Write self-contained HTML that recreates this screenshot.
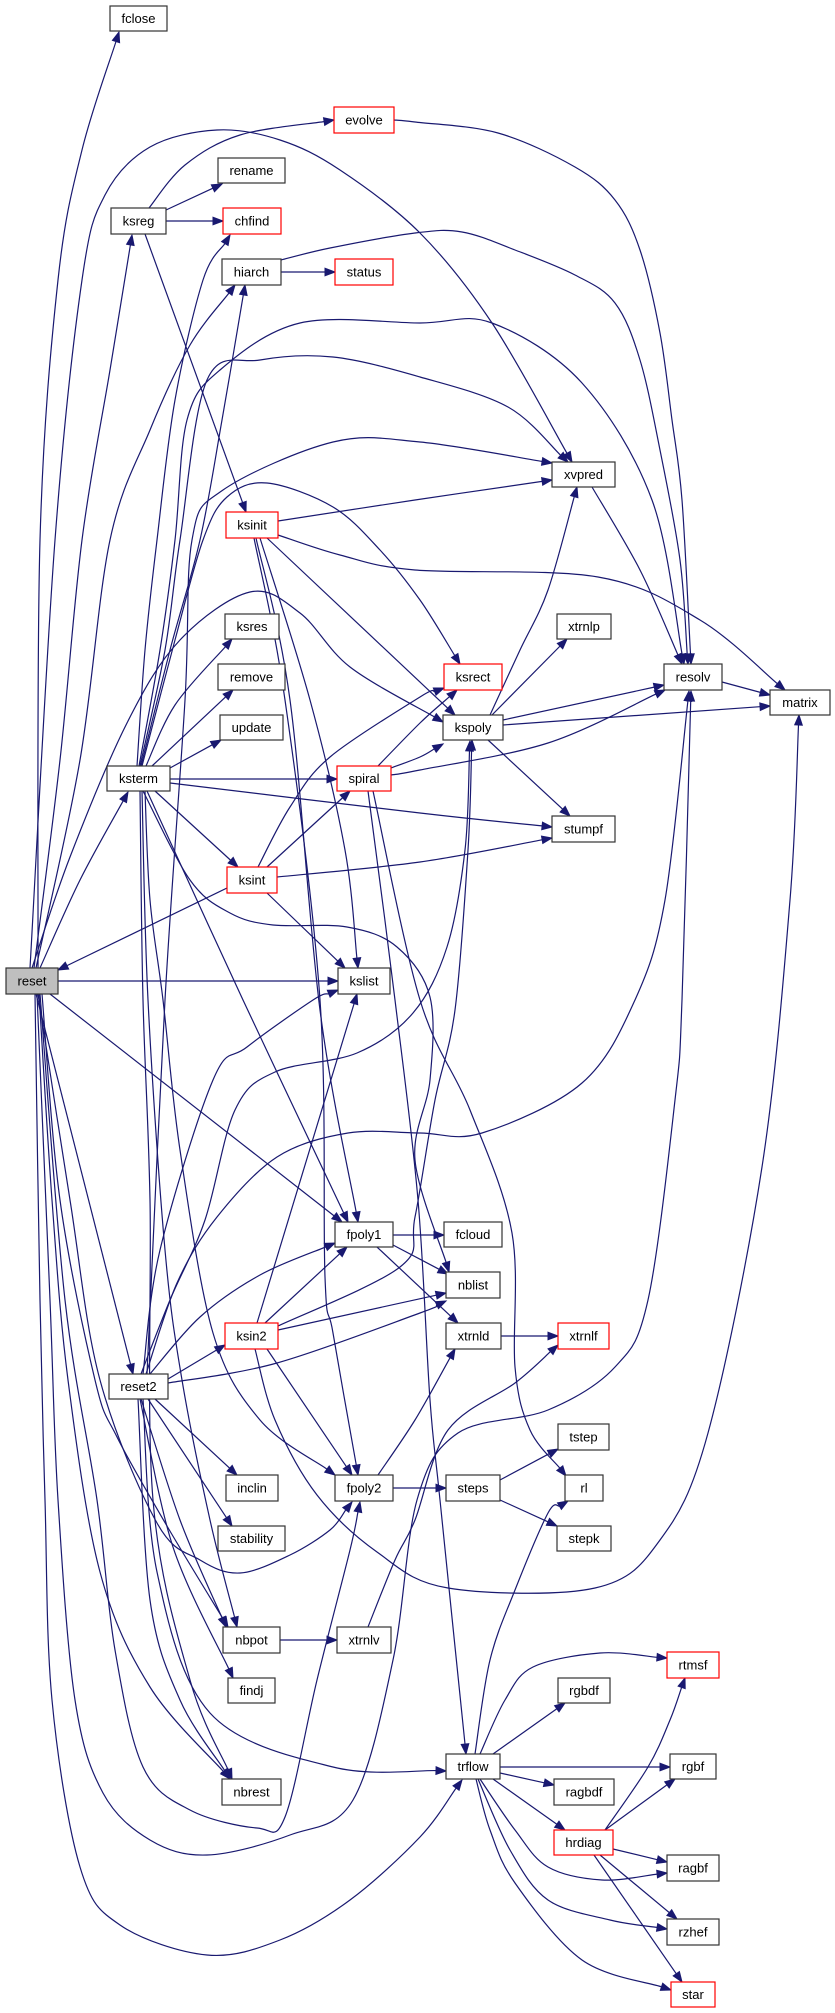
<!DOCTYPE html>
<html><head><meta charset="utf-8"><style>
html,body{margin:0;padding:0;background:#fff;}
svg{display:block;}
text{font-family:"Liberation Sans",Arial,sans-serif;font-size:13px;fill:#000;text-anchor:middle;}
.n{fill:#fff;stroke:#333;stroke-width:1.2;}
.r{fill:#fff;stroke:#ff0000;stroke-width:1.2;}
.g{fill:#bfbfbf;stroke:#333;stroke-width:1.2;}
</style></head><body>
<svg id="s" width="835" height="2013" viewBox="0 0 835 2013" xmlns="http://www.w3.org/2000/svg">
<g id="edges" fill="none" stroke="#191970" stroke-width="1.2"></g>
<g id="heads" fill="#191970" stroke="#191970" stroke-width="1"></g>
<g id="nodes">
<rect class="n" x="110" y="6" width="57" height="25"/><text x="138.5" y="23">fclose</text>
<rect class="r" x="334" y="107" width="60" height="26"/><text x="364" y="124.5">evolve</text>
<rect class="n" x="218" y="158" width="67" height="25"/><text x="251.5" y="175">rename</text>
<rect class="n" x="111" y="208" width="55" height="26"/><text x="138.5" y="225.5">ksreg</text>
<rect class="r" x="223" y="208" width="58" height="26"/><text x="252" y="225.5">chfind</text>
<rect class="n" x="222" y="259" width="59" height="26"/><text x="251.5" y="276.5">hiarch</text>
<rect class="r" x="335" y="259" width="58" height="26"/><text x="364" y="276.5">status</text>
<rect class="n" x="552" y="462" width="63" height="25"/><text x="583.5" y="479">xvpred</text>
<rect class="r" x="226" y="512" width="52" height="26"/><text x="252" y="529.5">ksinit</text>
<rect class="n" x="225" y="614" width="54" height="25"/><text x="252" y="631">ksres</text>
<rect class="n" x="557" y="614" width="54" height="25"/><text x="584" y="631">xtrnlp</text>
<rect class="n" x="218" y="664" width="67" height="26"/><text x="251.5" y="681.5">remove</text>
<rect class="r" x="444" y="664" width="58" height="26"/><text x="473" y="681.5">ksrect</text>
<rect class="n" x="664" y="664" width="58" height="26"/><text x="693" y="681.5">resolv</text>
<rect class="n" x="770" y="690" width="60" height="25"/><text x="800" y="707">matrix</text>
<rect class="n" x="220" y="715" width="63" height="25"/><text x="251.5" y="732">update</text>
<rect class="n" x="443" y="715" width="60" height="25"/><text x="473" y="732">kspoly</text>
<rect class="n" x="107" y="766" width="63" height="25"/><text x="138.5" y="783">ksterm</text>
<rect class="r" x="337" y="766" width="54" height="25"/><text x="364" y="783">spiral</text>
<rect class="n" x="552" y="816" width="63" height="26"/><text x="583.5" y="833.5">stumpf</text>
<rect class="r" x="227" y="867" width="50" height="26"/><text x="252" y="884.5">ksint</text>
<rect class="g" x="6" y="968" width="52" height="26"/><text x="32" y="985.5">reset</text>
<rect class="n" x="338" y="968" width="52" height="26"/><text x="364" y="985.5">kslist</text>
<rect class="n" x="335" y="1222" width="58" height="25"/><text x="364" y="1239">fpoly1</text>
<rect class="n" x="444" y="1222" width="58" height="25"/><text x="473" y="1239">fcloud</text>
<rect class="n" x="446" y="1272" width="54" height="26"/><text x="473" y="1289.5">nblist</text>
<rect class="r" x="225" y="1323" width="53" height="26"/><text x="251.5" y="1340.5">ksin2</text>
<rect class="n" x="446" y="1323" width="55" height="26"/><text x="473.5" y="1340.5">xtrnld</text>
<rect class="r" x="558" y="1323" width="51" height="26"/><text x="583.5" y="1340.5">xtrnlf</text>
<rect class="n" x="109" y="1374" width="59" height="25"/><text x="138.5" y="1391">reset2</text>
<rect class="n" x="558" y="1424" width="51" height="26"/><text x="583.5" y="1441.5">tstep</text>
<rect class="n" x="226" y="1475" width="52" height="26"/><text x="252" y="1492.5">inclin</text>
<rect class="n" x="335" y="1475" width="58" height="26"/><text x="364" y="1492.5">fpoly2</text>
<rect class="n" x="446" y="1475" width="54" height="26"/><text x="473" y="1492.5">steps</text>
<rect class="n" x="565" y="1475" width="38" height="26"/><text x="584" y="1492.5">rl</text>
<rect class="n" x="218" y="1526" width="67" height="25"/><text x="251.5" y="1543">stability</text>
<rect class="n" x="557" y="1526" width="54" height="25"/><text x="584" y="1543">stepk</text>
<rect class="n" x="223" y="1627" width="57" height="26"/><text x="251.5" y="1644.5">nbpot</text>
<rect class="n" x="337" y="1627" width="54" height="26"/><text x="364" y="1644.5">xtrnlv</text>
<rect class="r" x="667" y="1652" width="52" height="26"/><text x="693" y="1669.5">rtmsf</text>
<rect class="n" x="228" y="1678" width="47" height="25"/><text x="251.5" y="1695">findj</text>
<rect class="n" x="558" y="1678" width="52" height="25"/><text x="584" y="1695">rgbdf</text>
<rect class="n" x="446" y="1754" width="54" height="25"/><text x="473" y="1771">trflow</text>
<rect class="n" x="670" y="1754" width="46" height="25"/><text x="693" y="1771">rgbf</text>
<rect class="n" x="222" y="1779" width="59" height="26"/><text x="251.5" y="1796.5">nbrest</text>
<rect class="n" x="554" y="1779" width="60" height="26"/><text x="584" y="1796.5">ragbdf</text>
<rect class="r" x="554" y="1830" width="59" height="25"/><text x="583.5" y="1847">hrdiag</text>
<rect class="n" x="667" y="1855" width="52" height="26"/><text x="693" y="1872.5">ragbf</text>
<rect class="n" x="667" y="1919" width="52" height="26"/><text x="693" y="1936.5">rzhef</text>
<rect class="r" x="671" y="1982" width="44" height="25"/><text x="693" y="1999">star</text>
</g>
</svg>
<script>
var E=[
[[38,968],[40,540],[58,280],[82,150],[119,32]],
[[30,968],[55,540],[82,280],[105,195],[150,147],[217,130],[280,140],[340,170],[420,233],[492,323],[572,462]],
[[34,968],[60,760],[82,540],[110,370],[132,235]],
[[36,968],[80,760],[110,540],[150,430],[190,345],[235,285]],
[[40,968],[80,880],[128,792]],
[[58,981],[338,981]],
[[50,994],[342,1222]],
[[36,994],[133,1374]],
[[32,968],[70,857],[127,723],[180,640],[250,592],[300,613],[350,667],[443,722]],
[[35,994],[40,1300],[45,1500],[52,1700],[80,1867],[120,1925],[207,1955],[280,1940],[350,1900],[420,1837],[462,1780]],
[[37,994],[50,1300],[58,1500],[75,1700],[103,1793],[150,1840],[207,1855],[290,1835],[353,1800],[393,1660],[417,1500],[458,1433],[548,1410],[615,1367],[648,1300],[675,1100],[682,1000],[691,691]],
[[40,994],[65,1300],[97,1500],[115,1650],[143,1767],[190,1810],[257,1828],[285,1817],[317,1680],[350,1550],[360,1502]],
[[38,994],[70,1200],[100,1380],[157,1523],[200,1560],[240,1573],[290,1555],[330,1530],[352,1502]],
[[42,994],[60,1200],[95,1380],[117,1437],[167,1526],[228,1627]],
[[39,994],[52,1200],[68,1380],[100,1572],[150,1687],[230,1779]],
[[149,208],[185,165],[240,135],[334,120]],
[[166,210],[222,184]],
[[166,221],[223,221]],
[[145,234],[246,512]],
[[281,272],[335,272]],
[[281,260],[330,248],[415,233],[462,232],[515,250],[575,275],[615,303],[640,360],[660,450],[680,560],[688,664]],
[[394,120],[415,122],[498,133],[575,167],[615,200],[640,250],[660,333],[672,420],[682,500],[691,664]],
[[137,766],[145,650],[157,540],[175,400],[203,280],[230,235]],
[[141,766],[170,650],[200,540],[222,420],[245,285]],
[[139,766],[160,650],[175,540],[187,420],[220,370],[300,323],[420,323],[492,323],[582,383],[652,500],[684,664]],
[[140,766],[165,650],[180,540],[207,380],[260,360],[333,357],[420,377],[508,407],[568,462]],
[[142,766],[175,640],[203,540],[227,497],[267,483],[333,507],[380,550],[420,600],[460,664]],
[[146,766],[175,705],[232,639]],
[[152,766],[233,690]],
[[170,768],[221,740]],
[[170,779],[337,779]],
[[170,783],[420,813],[552,827]],
[[155,791],[238,867]],
[[147,791],[243,1000],[348,1222]],
[[143,791],[190,880],[230,913],[273,925],[347,927],[397,947],[430,997],[430,1080],[415,1160],[449,1272]],
[[145,791],[150,900],[163,1000],[180,1150],[213,1333],[260,1420],[335,1475]],
[[142,791],[148,1000],[165,1250],[182,1380],[210,1520],[237,1627]],
[[140,791],[143,1000],[150,1200],[153,1500],[190,1680],[232,1779]],
[[227,888],[58,970]],
[[267,867],[350,791]],
[[258,867],[290,807],[330,757],[420,697],[444,688]],
[[277,877],[420,862],[552,838]],
[[267,893],[345,968]],
[[278,521],[415,500],[552,480]],
[[278,535],[340,555],[415,570],[598,577],[700,620],[785,690]],
[[267,538],[455,715]],
[[260,538],[310,700],[345,850],[358,968]],
[[256,538],[290,700],[320,1010],[358,1222]],
[[254,538],[285,700],[320,1000],[325,1277],[333,1333],[358,1475]],
[[378,766],[420,723],[457,690]],
[[391,768],[420,757],[443,744]],
[[391,775],[420,770],[548,743],[665,690]],
[[368,791],[395,1000],[418,1200],[430,1400],[440,1500],[466,1754]],
[[373,791],[420,1000],[470,1110],[512,1233],[515,1367],[530,1430],[566,1476]],
[[490,715],[520,650],[548,590],[577,487]],
[[492,715],[567,639]],
[[503,720],[664,685]],
[[503,725],[770,706]],
[[488,740],[570,816]],
[[592,487],[640,570],[682,664]],
[[722,682],[770,695]],
[[168,1379],[225,1345]],
[[168,1383],[277,1363],[420,1313],[446,1301]],
[[150,1374],[200,1317],[260,1275],[335,1243]],
[[143,1374],[160,1250],[213,1080],[247,1047],[313,1000],[338,990]],
[[141,1374],[170,1300],[205,1220],[235,1110],[275,1072],[357,1053],[413,1013],[447,947],[465,850],[470,741]],
[[146,1374],[177,1283],[217,1217],[277,1157],[348,1133],[420,1133],[482,1133],[582,1083],[635,1000],[665,900],[689,691]],
[[147,1374],[165,1000],[185,700],[192,540],[223,490],[333,442],[420,442],[552,463]],
[[155,1399],[237,1475]],
[[148,1399],[232,1526]],
[[141,1399],[180,1520],[226,1627]],
[[140,1399],[173,1547],[233,1678]],
[[138,1399],[150,1600],[180,1700],[230,1779]],
[[143,1399],[157,1572],[210,1713],[333,1767],[446,1771]],
[[265,1323],[347,1247]],
[[278,1330],[446,1293]],
[[278,1326],[400,1267],[415,1217],[435,1100],[455,1010],[468,850],[472,740]],
[[257,1323],[357,994]],
[[267,1349],[352,1475]],
[[255,1349],[275,1420],[317,1495],[377,1552],[448,1588],[595,1588],[660,1540],[708,1433],[762,1167],[790,900],[799,715]],
[[393,1235],[444,1235]],
[[393,1245],[448,1274]],
[[377,1247],[458,1323]],
[[393,1488],[446,1488]],
[[378,1475],[415,1420],[455,1349]],
[[501,1336],[558,1336]],
[[368,1627],[395,1560],[415,1520],[448,1430],[515,1383],[558,1345]],
[[500,1480],[558,1449]],
[[500,1500],[557,1526]],
[[280,1640],[337,1640]],
[[480,1754],[505,1700],[533,1667],[600,1653],[667,1658]],
[[493,1754],[565,1703]],
[[500,1767],[670,1767]],
[[500,1773],[554,1785]],
[[493,1779],[565,1830]],
[[480,1779],[515,1830],[548,1867],[602,1880],[667,1873]],
[[478,1779],[510,1850],[548,1900],[610,1920],[667,1929]],
[[476,1779],[490,1830],[515,1883],[582,1960],[671,1990]],
[[475,1754],[490,1660],[515,1590],[548,1513],[568,1501]],
[[605,1830],[648,1767],[670,1720],[685,1678]],
[[605,1830],[675,1779]],
[[613,1849],[667,1862]],
[[600,1855],[677,1919]],
[[594,1855],[682,1982]]
];
(function(){
var NS="http://www.w3.org/2000/svg";
var ge=document.getElementById("edges"),gh=document.getElementById("heads");
var L=10,W=3.8;
E.forEach(function(pts){
 var n=pts.length,tip=pts[n-1],prev=pts[n-2];
 var dx=tip[0]-prev[0],dy=tip[1]-prev[1],d=Math.sqrt(dx*dx+dy*dy)||1;
 dx/=d;dy/=d;
 var base=[tip[0]-dx*L,tip[1]-dy*L];
 var P=pts.slice(0,n-1).concat([base]);
 var s="M"+P[0][0]+","+P[0][1];
 if(P.length==2){s+=" L"+base[0]+","+base[1];}
 else{
  for(var i=0;i<P.length-1;i++){
   var p0=P[i-1]||P[i],p1=P[i],p2=P[i+1],p3=P[i+2]||P[i+1];
   var c1=[p1[0]+(p2[0]-p0[0])/6,p1[1]+(p2[1]-p0[1])/6];
   var c2=[p2[0]-(p3[0]-p1[0])/6,p2[1]-(p3[1]-p1[1])/6];
   s+=" C"+c1[0].toFixed(1)+","+c1[1].toFixed(1)+" "+c2[0].toFixed(1)+","+c2[1].toFixed(1)+" "+p2[0].toFixed(1)+","+p2[1].toFixed(1);
  }
 }
 var p=document.createElementNS(NS,"path");p.setAttribute("d",s);ge.appendChild(p);
 var a=document.createElementNS(NS,"polygon");
 var px=-dy,py=dx;
 a.setAttribute("points",tip[0]+","+tip[1]+" "+(base[0]+px*W).toFixed(1)+","+(base[1]+py*W).toFixed(1)+" "+(base[0]-px*W).toFixed(1)+","+(base[1]-py*W).toFixed(1));
 gh.appendChild(a);
});
})();
</script>
</body></html>
